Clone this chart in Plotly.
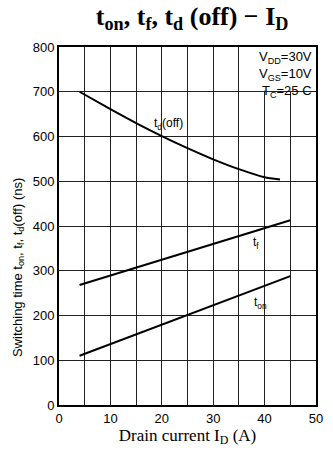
import plotly.graph_objects as go

# Data
id_td = [4, 10, 15, 20, 25, 30, 35, 40, 43]
td_off = [700, 661, 630, 601, 574, 549, 527, 509, 504]
id_tf = [4, 45]
tf = [268, 413]
id_ton = [4, 45]
ton = [110, 288]

x_ticks = [0, 5, 10, 15, 20, 25, 30, 35, 40, 45, 50]
x_text = ["0", "", "10", "", "20", "", "30", "", "40", "", "50"]
y_ticks = [0, 100, 200, 300, 400, 500, 600, 700, 800]

fig = go.Figure()
line = dict(color="black", width=2)
fig.add_trace(go.Scatter(x=id_td, y=td_off, mode="lines", line=dict(color="black", width=2, shape="spline", smoothing=0.6)))
fig.add_trace(go.Scatter(x=id_tf, y=tf, mode="lines", line=line))
fig.add_trace(go.Scatter(x=id_ton, y=ton, mode="lines", line=line))

fig.add_shape(type="rect", x0=36.5, x1=50, y0=702, y1=800, fillcolor="white",
              line=dict(width=0), layer="above")

lab_font = dict(family="Liberation Sans, Arial", size=12, color="black")
fig.add_annotation(x=18, y=628, text="t<sub>d</sub>(off)", showarrow=False, xanchor="left", font=lab_font)
fig.add_annotation(x=37.3, y=362, text="t<sub>f</sub>", showarrow=False, xanchor="left", font=lab_font)
fig.add_annotation(x=37.6, y=228, text="t<sub>on</sub>", showarrow=False, xanchor="left", font=lab_font)
fig.add_annotation(x=49.6, y=799, xanchor="right", yanchor="top", align="right", showarrow=False,
                   text="V<sub>DD</sub>=30V<br>V<sub>GS</sub>=10V<br>T<sub>C</sub>=25 C",
                   font=dict(family="Liberation Sans, Arial", size=13, color="black"))

# y-axis title as annotation for position control
fig.add_annotation(xref="paper", yref="paper", x=-0.16, y=0.385, xanchor="center", yanchor="middle",
                   textangle=-90, showarrow=False,
                   text="Switching time t<sub>on</sub>, t<sub>f</sub>, t<sub>d</sub>(off) (ns)",
                   font=dict(family="Liberation Sans, Arial", size=13, color="black"))

fig.update_layout(
    width=333, height=452,
    margin=dict(l=59, r=10, t=47, b=47),
    paper_bgcolor="white", plot_bgcolor="white",
    showlegend=False,
    title=dict(text="<b>t<sub>on</sub>, t<sub>f</sub>, t<sub>d</sub> (off) − I<sub>D</sub></b>",
               x=0.577, xanchor="center", y=0.985, yanchor="top",
               font=dict(family="Liberation Serif, Times New Roman", size=26, color="black")),
    xaxis=dict(range=[0, 50], tickvals=x_ticks, ticktext=x_text, showgrid=True,
               gridcolor="#222", gridwidth=1, zeroline=False, showline=True, linecolor="black",
               linewidth=2, mirror=True, ticks="",
               tickfont=dict(family="Liberation Sans, Arial", size=13, color="black"),
               title=dict(text="Drain current I<sub>D</sub> (A)", standoff=3,
                          font=dict(family="Liberation Serif, Times New Roman", size=17, color="black"))),
    yaxis=dict(range=[0, 800], tickvals=y_ticks, showgrid=True,
               gridcolor="#222", gridwidth=1, zeroline=False, showline=True, linecolor="black",
               linewidth=2, mirror=True, ticks="",
               tickfont=dict(family="Liberation Sans, Arial", size=13, color="black")),
)

fig.write_html("out.html")
